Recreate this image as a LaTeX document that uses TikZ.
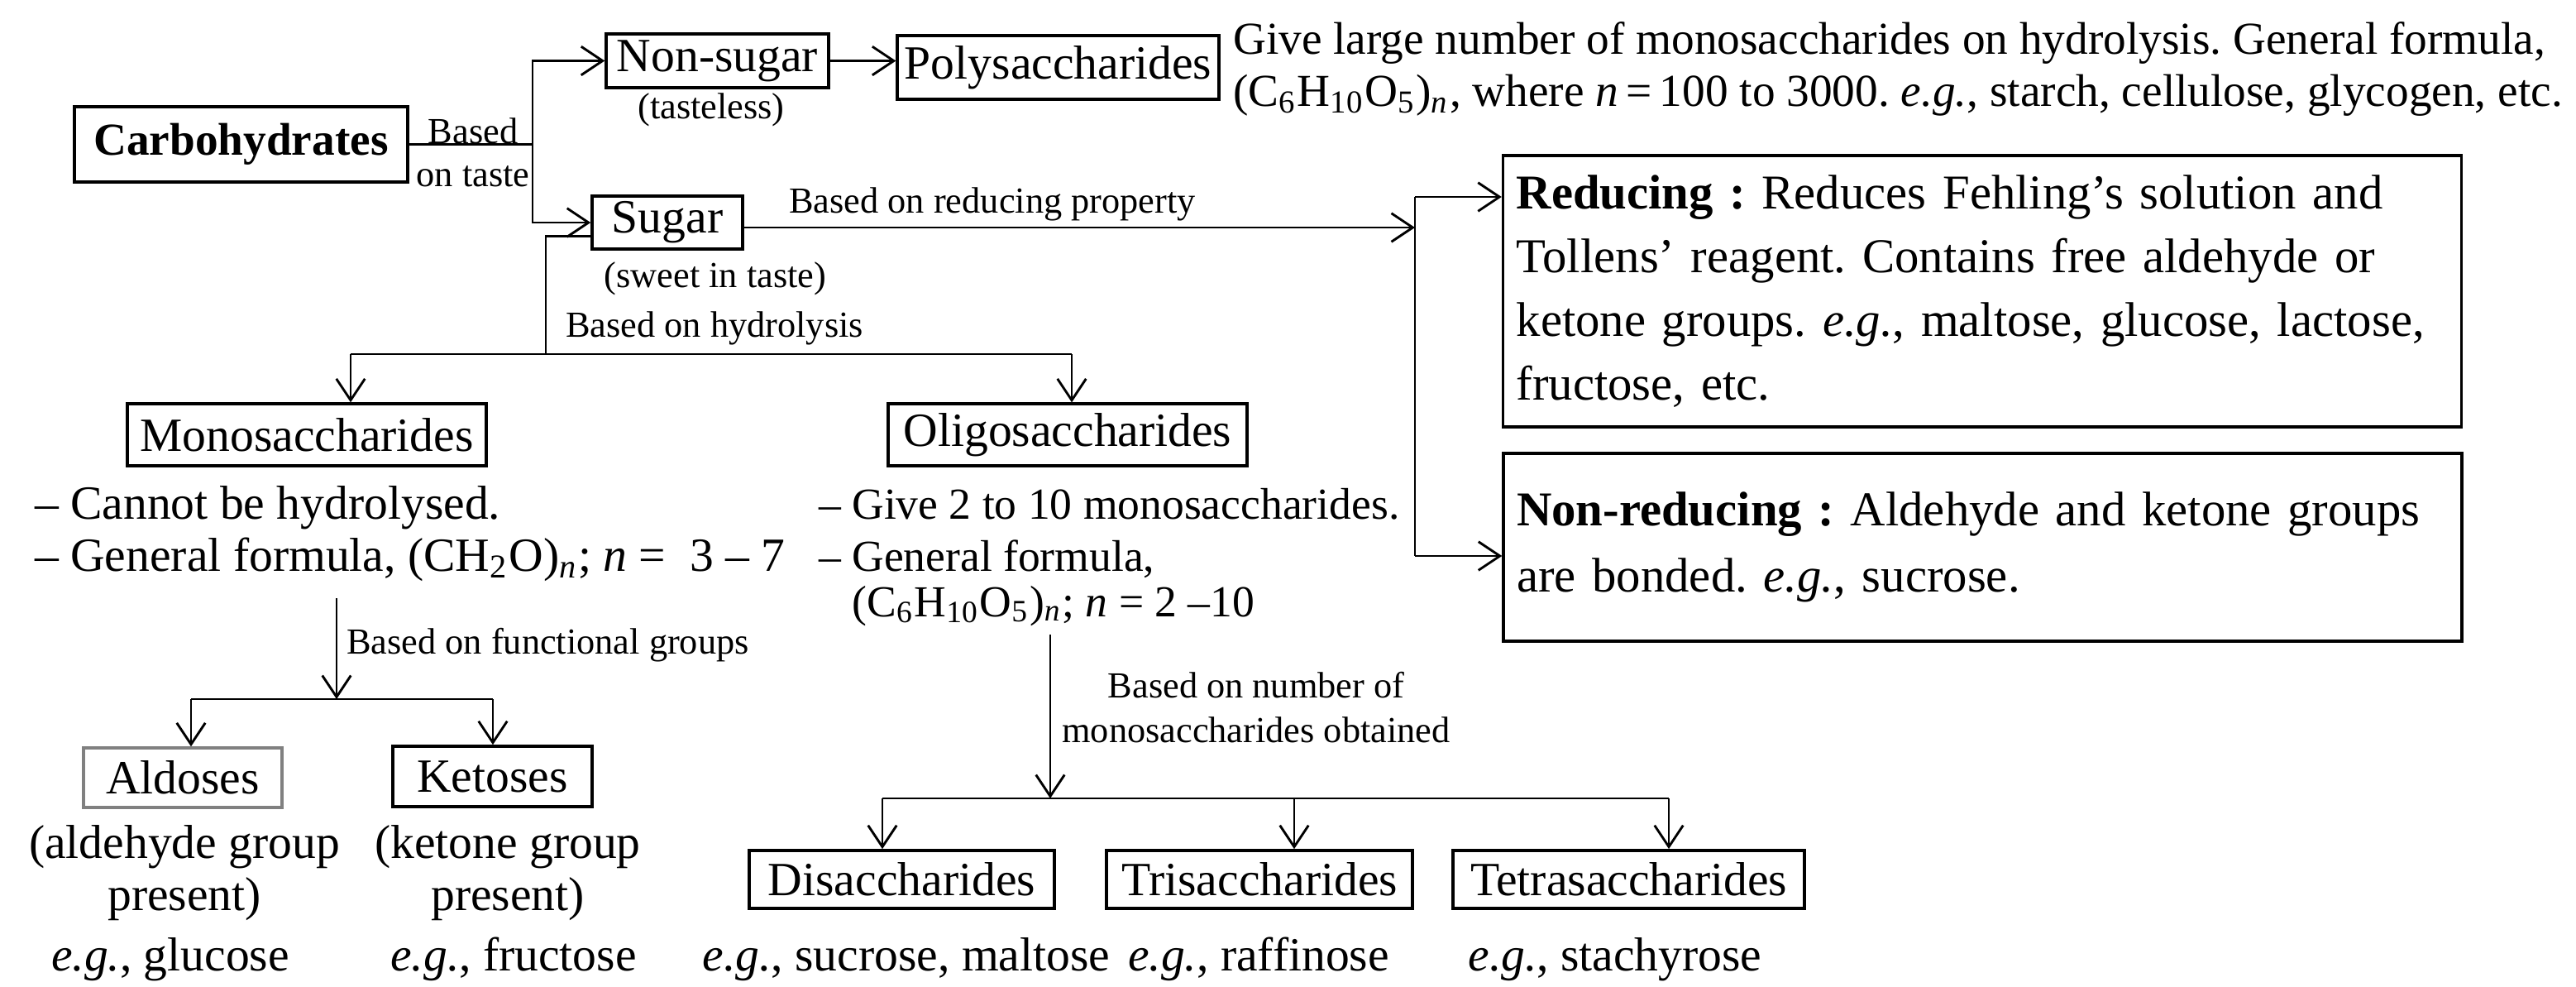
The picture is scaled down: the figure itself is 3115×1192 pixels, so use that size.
\documentclass[tikz,border=0pt]{standalone}
\usepackage{fontspec}
\setmainfont{Liberation Serif}
\usetikzlibrary{arrows.meta}
\frenchspacing

\tikzset{
  box/.style={draw, line width=0.6pt, inner sep=0pt, font=\fontsize{10}{12}\selectfont},
  infobox/.style={box, align=left, text width=195.6pt, inner xsep=2.8pt},
  lbl/.style={inner sep=0pt, font=\fontsize{7.7}{9.5}\selectfont},
  txt/.style={inner sep=0pt, align=left, font=\fontsize{10}{10.9}\selectfont},
  ln/.style={line width=0.5pt},
  arr/.style={line width=0.5pt, -{Straight Barb[length=4.5pt,width=6pt]}}
}

\begin{document}
\begin{tikzpicture}[x=0.1736pt,y=-0.1736pt]
  \useasboundingbox (0,0) rectangle (3115,1192);

  % taste
  \node[box, font=\fontsize{9.6}{11}\selectfont\bfseries, minimum width=70pt, minimum height=15.8pt] (carb) at (291.5,174.5) {Carbohydrates};
  \node[box, minimum width=46.7pt, minimum height=11.3pt] (nonsugar) at (867.5,73.5) {Non-sugar};
  \node[box, minimum width=67.5pt, minimum height=13.4pt] (poly) at (1279.5,81.5) {Polysaccharides};
  \node[box, minimum width=31.6pt, minimum height=11.1pt] (sugar) at (807,269) {Sugar};
  \node[lbl] (lblbased) at (572,158) {Based};
  \node[lbl] (lbltaste) at (572,213) {on taste};
  \node[lbl] (tasteless) at (860,133) {(tasteless)};
  \node[lbl] (sweet) at (865,337) {(sweet in taste)};
  \node[txt, anchor=base west, font=\fontsize{9.6}{10.9}\selectfont] (polytext) at (1490,128)
    {Give large number of monosaccharides on hydrolysis. General formula,\\
     (C\textsubscript{6}H\textsubscript{10}O\textsubscript{5})\textsubscript{\textit{n}}, where \textit{n}\,=\,100 to 3000. \textit{e.g.}, starch, cellulose, glycogen, etc.};

  \coordinate (fork) at (644,174.5);
  \draw[ln] (carb.east) -- (fork);
  \draw[arr] (fork) |- (nonsugar.west);
  \draw[arr] (fork) |- (sugar.west);
  \draw[arr] (nonsugar.east) -- (nonsugar.east -| poly.west);

  % reducing property
  \node[infobox, minimum height=56.9pt, font=\fontsize{10.2}{13.4}\selectfont] (red) at (2397,352)
    {\textbf{Reducing :} Reduces Fehling's solution and\\
     Tollens' reagent. Contains free aldehyde or\\
     ketone groups. \textit{e.g.}, maltose, glucose, lactose,\\
     fructose, etc.};
  \node[infobox, minimum height=39.4pt, font=\fontsize{10.2}{13.9}\selectfont] (nonred) at (2397.5,661.5)
    {\textbf{Non-reducing :} Aldehyde and ketone groups\\
     are bonded. \textit{e.g.}, sucrose.};
  \node[lbl] (lblred) at (1200,247) {Based on reducing property};

  \coordinate (rmid) at (1711,275);
  \coordinate (rtop) at (1711,238);
  \coordinate (rbot) at (1711,672);
  \draw[arr] (sugar.east |- rmid) -- (rmid);
  \draw[ln] (rtop) -- (rbot);
  \draw[arr] (rtop) -- (rtop -| red.west);
  \draw[arr] (rbot) -- (rbot -| nonred.west);

  % hydrolysis
  \node[box, minimum width=75.3pt, minimum height=13pt] (mono) at (371,525.5) {Monosaccharides};
  \node[box, minimum width=75.3pt, minimum height=13pt] (oligo) at (1291,525.5) {Oligosaccharides};
  \node[lbl, anchor=west] (lblhyd) at (683,397) {Based on hydrolysis};

  \coordinate (hyd) at (660,428);
  \coordinate (hydL) at (424,428);
  \coordinate (hydR) at (1296,428);
  \draw[ln] ([yshift=-2.8pt]sugar.west) -| (hyd);
  \draw[ln] (hydL) -- (hydR);
  \draw[arr] (hydL) -- (hydL |- mono.north);
  \draw[arr] (hydR) -- (hydR |- oligo.north);

  \node[txt, anchor=base west] (monotext) at (41,690)
    {-- Cannot be hydrolysed.\\
     -- General formula, (CH\textsubscript{2}O)\textsubscript{\textit{n}}; \textit{n} = \ 3 -- 7};
  \node[txt, anchor=base west, font=\fontsize{9.3}{10.9}\selectfont] (oligotext) at (989,745)
    {-- Give 2 to 10 monosaccharides.\\
     -- General formula,\\[-1.4pt]
     \hspace*{7pt}(C\textsubscript{6}H\textsubscript{10}O\textsubscript{5})\textsubscript{\textit{n}}; \textit{n} = 2 --10};

  % functional groups
  \node[box, draw=gray, minimum width=41.7pt, minimum height=12.5pt] (ald) at (221,940) {Aldoses};
  \node[box, minimum width=41.8pt, minimum height=12.7pt] (ket) at (595.5,938.5) {Ketoses};
  \node[lbl, anchor=west] (lblfunc) at (418,780) {Based on functional groups};

  \coordinate (funtop) at (407,723);
  \coordinate (funbot) at (407,845);
  \coordinate (funL) at (231,845);
  \coordinate (funR) at (596,845);
  \draw[arr] (funtop) -- (funbot);
  \draw[ln] (funL) -- (funR);
  \draw[arr] (funL) -- (funL |- ald.north);
  \draw[arr] (funR) -- (funR |- ket.north);

  \node[txt, align=center, anchor=base] (aldtext) at (223,1100) {(aldehyde group\\present)};
  \node[txt, align=center, anchor=base] (kettext) at (614,1100) {(ketone group\\present)};
  \node[txt, anchor=base] (aldeg) at (206,1173) {\textit{e.g.}, glucose};
  \node[txt, anchor=base] (keteg) at (621,1173) {\textit{e.g.}, fructose};

  % number of monosaccharides
  \node[box, minimum width=64.1pt, minimum height=12.2pt] (di) at (1090.5,1063) {Disaccharides};
  \node[box, minimum width=64.2pt, minimum height=12.2pt] (tri) at (1523,1063) {Trisaccharides};
  \node[box, minimum width=73.8pt, minimum height=12.2pt] (tetra) at (1969.5,1063) {Tetrasaccharides};
  \node[lbl, align=center] (lblnum) at (1519,855) {Based on number of\\monosaccharides obtained};

  \coordinate (numtop) at (1270,767);
  \coordinate (numbot) at (1270,965);
  \coordinate (numL) at (1067,965);
  \coordinate (numM) at (1565,965);
  \coordinate (numR) at (2018,965);
  \draw[arr] (numtop) -- (numbot);
  \draw[ln] (numL) -- (numR);
  \foreach \c/\n in {numL/di, numM/tri, numR/tetra}
    \draw[arr] (\c) -- (\c |- \n.north);

  \node[txt, anchor=base] (dieg) at (1096,1173) {\textit{e.g.}, sucrose, maltose};
  \node[txt, anchor=base] (trieg) at (1522,1173) {\textit{e.g.}, raffinose};
  \node[txt, anchor=base] (tetraeg) at (1953,1173) {\textit{e.g.}, stachyrose};
\end{tikzpicture}
\end{document}
